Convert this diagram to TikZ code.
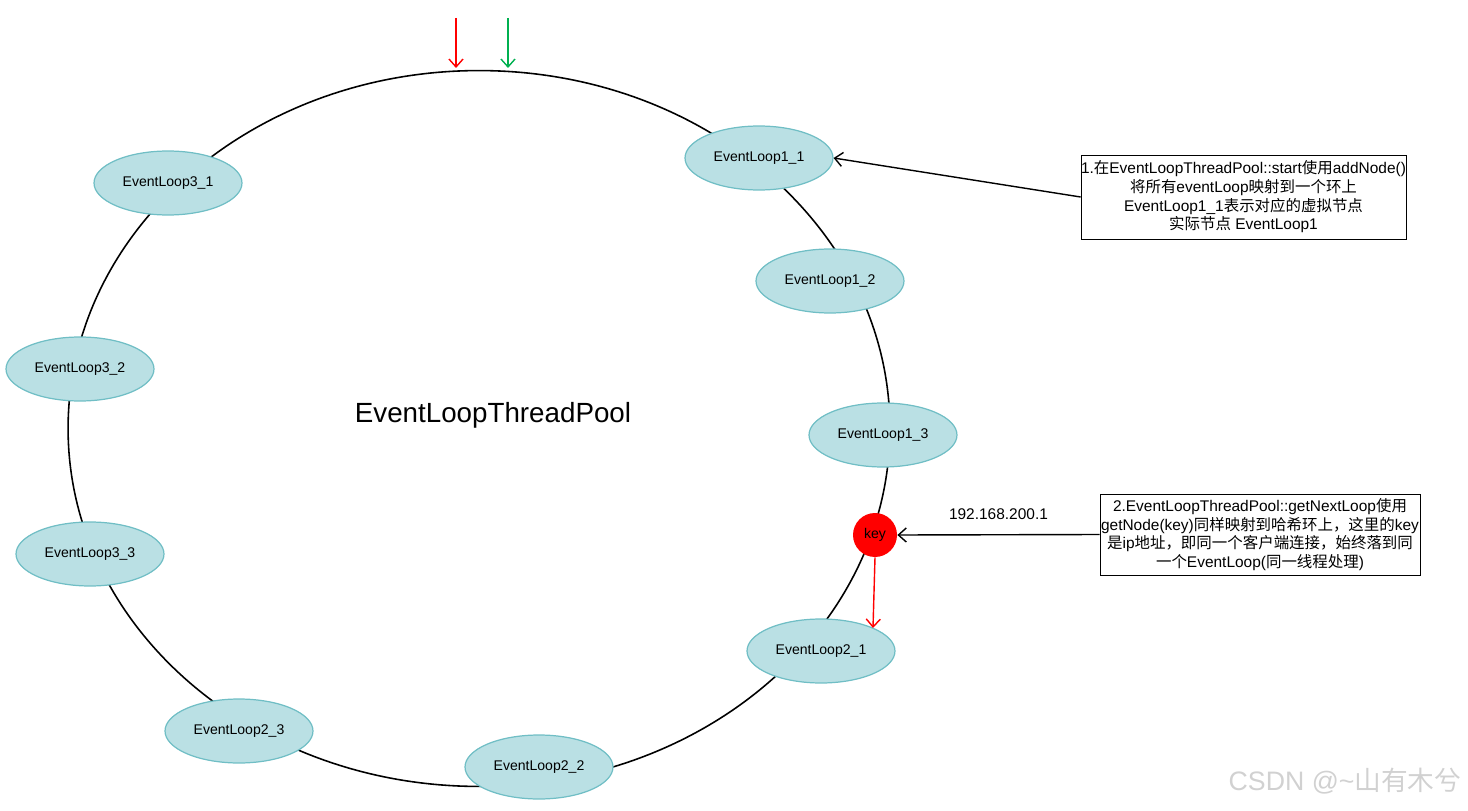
\documentclass[tikz,border=0pt]{standalone}
\usepackage{fontspec}
\setmainfont{Liberation Sans}
\newfontfamily\cjk{Noto Sans CJK SC}
\usetikzlibrary{shapes.geometric,arrows.meta}
\definecolor{loopfill}{RGB}{186,224,228}
\definecolor{loopline}{RGB}{112,190,197}
\definecolor{markgreen}{RGB}{0,176,80}
\newcommand\zh[1]{{\cjk #1}}
\tikzset{
  evloop/.style={ellipse, draw=loopline, fill=loopfill, line width=0.7pt,
    minimum width=2.96cm, minimum height=1.28cm, inner sep=0pt,
    font=\fontsize{8}{9}\selectfont},
  keynode/.style={circle, fill=red, minimum size=0.88cm, inner sep=0pt,
    font=\fontsize{8}{9}\selectfont},
  notebox/.style={draw, line width=0.5pt, align=center, inner xsep=0pt, inner ysep=2pt,
    font=\fontsize{8.8}{10.6}\selectfont},
  barb/.style={-{Straight Barb[length=4.5pt,width=8pt]}, line width=0.8pt},
}
\begin{document}
\begin{tikzpicture}[x=0.02cm,y=-0.02cm]
    \useasboundingbox (0,0) rectangle (1468,811);
    % the hash ring
    \draw[line width=0.9pt] (479,428.5) ellipse [x radius=8.22cm, y radius=7.16cm];
    \node at (493,415) {\fontsize{15.8}{18}\selectfont EventLoopThreadPool};
    % virtual nodes
    \node[evloop] (el11) at (759,158) {EventLoop1\_1};
    \node[evloop] (el12) at (830,281) {EventLoop1\_2};
    \node[evloop] (el13) at (883,435) {EventLoop1\_3};
    \node[evloop] (el21) at (821,651) {EventLoop2\_1};
    \node[evloop] (el22) at (539,767) {EventLoop2\_2};
    \node[evloop] (el23) at (239,731) {EventLoop2\_3};
    \node[evloop] (el33) at (90,554) {EventLoop3\_3};
    \node[evloop] (el32) at (80,369) {EventLoop3\_2};
    \node[evloop] (el31) at (168,183) {EventLoop3\_1};
    \node[keynode] (key) at (875,535) {key};
    % notes
    \node[notebox, minimum width=6.46cm, minimum height=1.68cm] (note1) at (1243.5,197)
      {1.\zh{在}EventLoopThreadPool::start\zh{使用}addNode()\\
       \zh{将所有}eventLoop\zh{映射到一个环上}\\
       EventLoop1\_1\zh{表示对应的虚拟节点}\\
       \zh{实际节点} EventLoop1};
    \node[notebox, minimum width=6.4cm, minimum height=1.62cm] (note2) at (1260,534.5)
      {2.EventLoopThreadPool::getNextLoop\zh{使用}\\
       getNode(key)\zh{同样映射到哈希环上，这里的}key\\
       \zh{是}ip\zh{地址，即同一个客户端连接，始终落到同}\\
       \zh{一个}EventLoop(\zh{同一线程处理})};
    \draw[barb] (note1.west) -- (el11.east);
    \draw[barb] (note2.west) -- node[above=5pt, font=\fontsize{8.8}{10}\selectfont] (ip) {192.168.200.1} (key.east);
    % lookup arrow and markers
    \coordinate (hit) at (873,628);
    \draw[barb, red] (key.south) -- (hit);
    \coordinate (redtop) at (456,18);
    \coordinate (redend) at (456,68);
    \coordinate (greentop) at (508,18);
    \coordinate (greenend) at (508,68);
    \draw[barb, red] (redtop) -- (redend);
    \draw[barb, markgreen] (greentop) -- (greenend);
    \node[text=black!18, font=\fontsize{15.2}{17}\selectfont] (mark) at (1345,781) {CSDN @\textasciitilde\zh{山有木兮}};
\end{tikzpicture}
\end{document}
